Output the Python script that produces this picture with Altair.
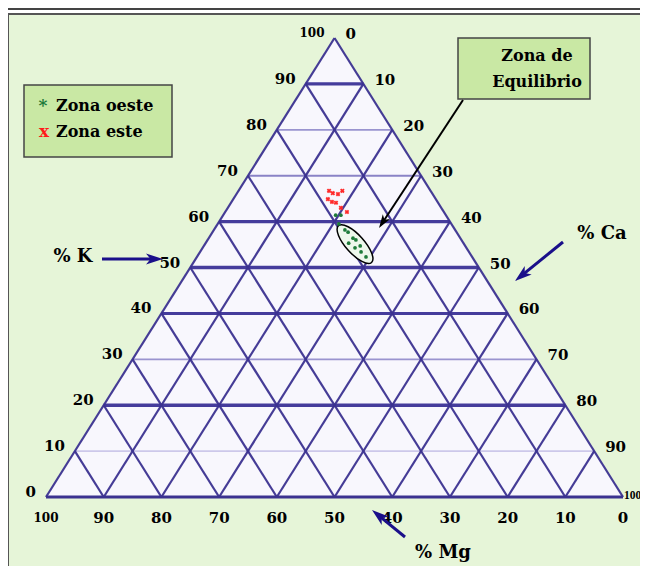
import altair as alt
import pandas as pd
import numpy as np

# ---------------- data ----------------
levels = [0, 10, 20, 30, 40, 50, 60, 70, 80, 90]
h_width = [3.2, 1.6, 3.4, 1.8, 3.0, 3.6, 3.2, 2.0, 1.8, 3.2]
h_color = ["#3b3290", "#cdc8ea", "#453c9c", "#9a94cf", "#453c9c",
           "#453c9c", "#453c9c", "#8a83c6", "#9a94cf", "#453c9c"]

tick_vals = [0, 10, 20, 30, 40, 50, 60, 70, 80, 90, 100]

# Zona oeste (green) : % K, % Ca, % Mg
oeste_K = [61.4, 61.4, 59.5, 58.2, 57.7, 56.4, 56.0, 55.3, 54.3, 54.7, 53.4, 52.3]
oeste_Ca = [19.5, 20.4, 21.0, 22.7, 23.5, 25.0, 25.7, 24.8, 26.4, 27.1, 27.9, 29.3]
oeste_Mg = [19.1, 18.2, 19.5, 19.1, 18.8, 18.6, 18.3, 19.9, 19.3, 18.2, 18.7, 18.4]

# Zona este (red)
este_K = [66.7, 66.2, 66.0, 66.7, 64.9, 64.3, 64.1, 63.0, 62.1]
este_Ca = [15.7, 16.6, 17.6, 18.0, 16.4, 17.4, 18.2, 19.6, 21.1]
este_Mg = [17.6, 17.2, 16.4, 15.3, 18.7, 18.3, 17.7, 17.4, 16.8]

# Zona de equilibrio (ellipse centre)
eq_K = [55.1]
eq_Ca = [26.0]

W, H = 632, 558
XDOM = [-6.59, 102.94]
YDOM = [-15.03, 106.54]
FONT = "DejaVu Serif"
LINE = "#3b3290"
NAVY = "#1a0f8a"


def tx(K, Ca):
    return Ca + K / 2.0


xs = alt.Scale(domain=XDOM, nice=False, zero=False)
ys = alt.Scale(domain=YDOM, nice=False, zero=False)


def X(f):
    return alt.X(f, type="quantitative", scale=xs, axis=None)


def Y(f):
    return alt.Y(f, type="quantitative", scale=ys, axis=None)


def X2(f):
    return alt.X2(f)


def Y2(f):
    return alt.Y2(f)


# ---------------- background / frame ----------------
frame = alt.Chart(pd.DataFrame({"a": [0]})).mark_rect(
    fill="#e6f5d8", stroke="#555555", strokeWidth=2
).encode(x=alt.value(0), x2=alt.value(W + 20), y=alt.value(6), y2=alt.value(H + 20))

topline = alt.Chart(pd.DataFrame({"a": [0]})).mark_rule(
    color="#444444", strokeWidth=2
).encode(x=alt.value(0), x2=alt.value(W), y=alt.value(1))

# triangle fill
tri = pd.DataFrame({"x": [tx(0, 0), tx(100, 0), tx(0, 100)],
                    "y": [0, 100, 0], "y0": [0, 0, 0]})
tri_fill = alt.Chart(tri).mark_area(color="#f8f7fd", opacity=1).encode(
    x=X("x"), y=Y("y"), y2=Y2("y0"))

# ---------------- grid ----------------
hrows = []
for k, w, c in zip(levels, h_width, h_color):
    hrows.append({"x": tx(k, 0), "y": k, "x2": tx(k, 100 - k), "y2": k, "w": w, "c": c})
hdf = pd.DataFrame(hrows)
hlines = alt.Chart(hdf).mark_rule().encode(
    x=X("x"), y=Y("y"), x2=X2("x2"), y2=Y2("y2"),
    strokeWidth=alt.StrokeWidth("w:Q", scale=None),
    color=alt.Color("c:N", scale=None))

drows = []
for v in levels:
    # constant Ca (parallel to left edge)
    drows.append({"x": tx(0, v), "y": 0, "x2": tx(100 - v, v), "y2": 100 - v})
    # constant Mg (parallel to right edge)
    drows.append({"x": tx(0, 100 - v), "y": 0, "x2": tx(100 - v, 0), "y2": 100 - v})
ddf = pd.DataFrame(drows)
dlines = alt.Chart(ddf).mark_rule(color=LINE, strokeWidth=2.2, opacity=0.95).encode(
    x=X("x"), y=Y("y"), x2=X2("x2"), y2=Y2("y2"))

# ---------------- tick labels ----------------
def fs(v):
    return 12 if v == 100 else 15


left = pd.DataFrame({"x": [tx(v, 0) for v in tick_vals], "y": tick_vals,
                     "t": [str(v) for v in tick_vals],
                     "fs": [fs(v) for v in tick_vals]})
right = pd.DataFrame({"x": [tx(100 - v, v) for v in tick_vals],
                      "y": [100 - v for v in tick_vals],
                      "t": [str(v) for v in tick_vals],
                      "fs": [fs(v) for v in tick_vals]})
bottom = pd.DataFrame({"x": [tx(0, 100 - v) for v in tick_vals], "y": [0] * 11,
                       "t": [str(v) for v in tick_vals],
                       "fs": [fs(v) for v in tick_vals]})

tk = dict(fontWeight="bold", color="black", baseline="middle")
left_t = alt.Chart(left).mark_text(align="right", dx=-10, dy=-5, font=FONT, **tk).encode(
    x=X("x"), y=Y("y"), text="t:N", size=alt.Size("fs:Q", scale=None))
right_t = alt.Chart(right[right["t"] != "100"]).mark_text(
    align="left", dx=11, dy=-4, font=FONT, **tk).encode(
    x=X("x"), y=Y("y"), text="t:N", size=alt.Size("fs:Q", scale=None))
right_100 = alt.Chart(right[right["t"] == "100"]).mark_text(
    align="left", dx=1, dy=-1, font="Liberation Serif", fontSize=11.5, **tk).encode(
    x=X("x"), y=Y("y"), text="t:N")
bottom_t = alt.Chart(bottom).mark_text(align="center", dx=0, dy=21, font=FONT, **tk).encode(
    x=X("x"), y=Y("y"), text="t:N", size=alt.Size("fs:Q", scale=None))

# ---------------- ellipse & points ----------------
ell = pd.DataFrame({"x": [tx(k, c) for k, c in zip(eq_K, eq_Ca)], "y": eq_K})
ellipse = alt.Chart(ell).mark_point(
    shape="M-1,0 A1,0.37 0 1,0 1,0 A1,0.37 0 1,0 -1,0 Z",
    size=2450, angle=48, fill="#eef8ec", fillOpacity=1, stroke="black",
    strokeWidth=1.5, opacity=1).encode(x=X("x"), y=Y("y"))

oe = pd.DataFrame({"x": [tx(k, c) for k, c in zip(oeste_K, oeste_Ca)], "y": oeste_K,
                   "Mg": oeste_Mg})
es = pd.DataFrame({"x": [tx(k, c) for k, c in zip(este_K, este_Ca)], "y": este_K,
                   "Mg": este_Mg})
oeste_pts = alt.Chart(oe).mark_circle(size=14, color="#1e7b3a", opacity=1).encode(
    x=X("x"), y=Y("y"))
este_pts = alt.Chart(es).mark_point(shape="cross", angle=45, size=22, filled=True,
                                    color="#ff2a2a", opacity=1).encode(x=X("x"), y=Y("y"))

# ---------------- annotation boxes ----------------
def box(x1, y1, x2, y2):
    return alt.Chart(pd.DataFrame({"a": [0]})).mark_rect(
        fill="#c9e8a4", stroke="#444444", strokeWidth=1.5).encode(
        x=alt.value(x1), x2=alt.value(x2), y=alt.value(y1), y2=alt.value(y2))


def label(x, y, t, size=18, color="black", align="center"):
    return alt.Chart(pd.DataFrame({"t": [t]})).mark_text(
        font=FONT, fontWeight="bold", fontSize=size, color=color, align=align,
        baseline="middle").encode(x=alt.value(x), y=alt.value(y), text="t:N")


legend_box = box(16, 77, 164, 149)
eq_box = box(450, 30, 582, 91)

texts = [
    label(35, 98, "*", 17, "#1e7b3a"),
    label(48, 98, "Zona oeste", 16, align="left"),
    label(36, 124, "x", 17, "#ff1a1a"),
    label(48, 124, "Zona este", 16, align="left"),
    label(529, 48, "Zona  de", 16),
    label(529, 74, "Equilibrio", 16),
    label(65, 249, "% K", 18),
    label(594, 226, "% Ca", 18),
    label(435, 545, "% Mg", 18),
]

# ---------------- arrows ----------------
arrow_tail = [(94, 251), (555, 234), (397, 529), (455, 92)]
arrow_tip = [(155, 251), (507, 273), (364, 502), (371, 220)]
arrow_col = [NAVY, NAVY, NAVY, "black"]
arrow_w = [3, 3, 3, 2]
head_size = [400, 400, 400, 256]

HEAD = "M0,0 L0.55,1.7 L0,1.25 L-0.55,1.7 Z"
arrows = []
for (x0, y0), (x1, y1), c, w, s in zip(arrow_tail, arrow_tip, arrow_col, arrow_w, head_size):
    dx, dy = x1 - x0, y1 - y0
    L = np.hypot(dx, dy)
    unit = np.sqrt(s) / 2
    ex, ey = x1 - dx / L * unit * 1.2, y1 - dy / L * unit * 1.2
    ang = float(np.degrees(np.arctan2(dx, -dy))) % 360
    arrows.append(alt.Chart(pd.DataFrame({"a": [0]})).mark_rule(
        color=c, strokeWidth=w).encode(
        x=alt.value(x0), y=alt.value(y0), x2=alt.value(float(ex)), y2=alt.value(float(ey))))
    arrows.append(alt.Chart(pd.DataFrame({"a": [0]})).mark_point(
        shape=HEAD, size=s, angle=ang, filled=True, color=c, opacity=1,
        strokeWidth=0).encode(x=alt.value(x1), y=alt.value(y1)))

chart = alt.layer(
    frame, topline, tri_fill, hlines, dlines,
    left_t, right_t, right_100, bottom_t,
    ellipse, oeste_pts, este_pts,
    legend_box, eq_box, *texts, *arrows
).properties(width=W, height=H, padding=0, autosize="none"
).configure_view(stroke=None)

chart.save("out.html", embed_options={"renderer": "svg", "actions": False})
